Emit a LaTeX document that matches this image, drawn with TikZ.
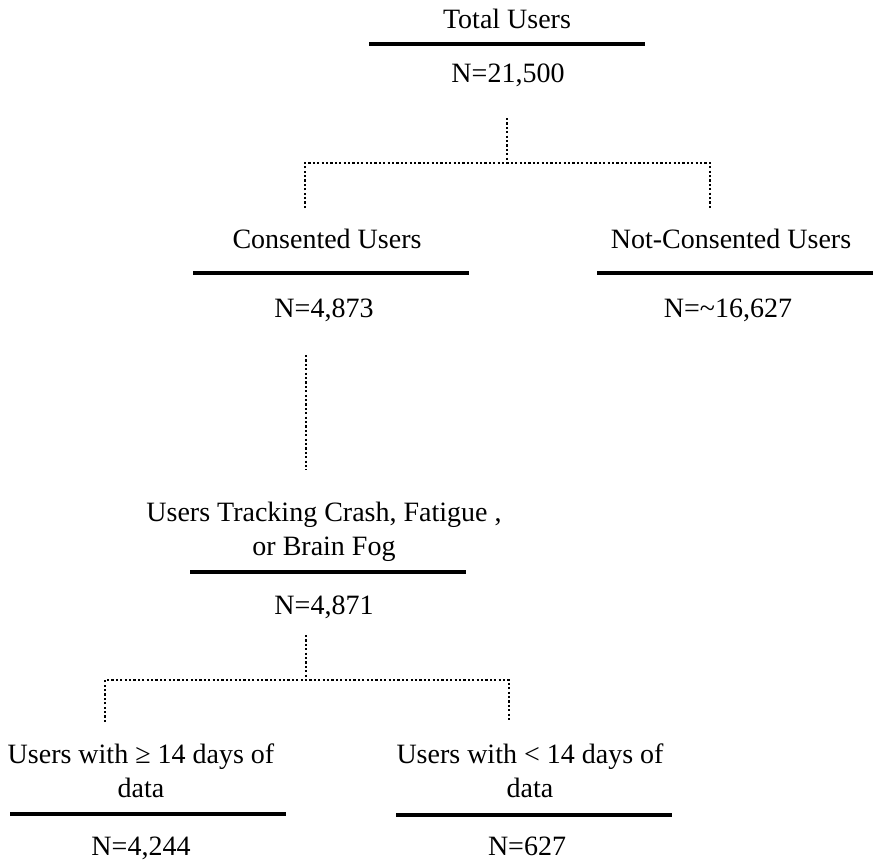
\documentclass[tikz,border=0pt]{standalone}
\usepackage{fontspec}
\setmainfont{Liberation Serif}
\begin{document}
\begin{tikzpicture}[x=1pt, y=-1pt,
    txt/.style={anchor=base, inner sep=0pt, align=center, font=\fontsize{28}{34}\selectfont},
    rule/.style={draw=none, fill=black, minimum width=276pt, minimum height=4pt, inner sep=0pt},
    dotline/.style={line width=2.4pt, dash pattern=on 2.2pt off 2.2pt}]
    \useasboundingbox (0,0) rectangle (878,862);
    % top level
    \node[txt] (total) at (507,28) {Total Users};
    \node[rule] (totalbar) at (507,44) {};
    \node[txt] (totalN) at (508,82) {N=21,500};
    % second level
    \node[txt] (cons) at (327,248) {Consented Users};
    \node[rule] (consbar) at (331,273) {};
    \node[txt] (consN) at (324,317) {N=4,873};
    \node[txt] (notcons) at (731,248) {Not-Consented Users};
    \node[rule] (notconsbar) at (735,273) {};
    \node[txt] (notconsN) at (728,317) {N=\textasciitilde16,627};
    % third level
    \node[txt] (track) at (324,555) {Users Tracking Crash, Fatigue ,\\or Brain Fog};
    \node[rule] (trackbar) at (328,572) {};
    \node[txt] (trackN) at (324,614) {N=4,871};
    % bottom level
    \node[txt] (more) at (141,797) {Users with ≥ 14 days of\\data};
    \node[rule] (morebar) at (148,814) {};
    \node[txt] (moreN) at (141,855) {N=4,244};
    \node[txt] (less) at (530,797) {Users with < 14 days of\\data};
    \node[rule] (lessbar) at (534,815) {};
    \node[txt] (lessN) at (527,855) {N=627};
    % dotted connectors
    \coordinate (s0) at (507,118);
    \coordinate (j0) at (507,163);
    \coordinate (a0) at (305,163);
    \coordinate (b0) at (710,163);
    \coordinate (a0e) at (305,208);
    \coordinate (b0e) at (710,208);
    \draw[dotline] (s0) -- (j0);
    \draw[dotline] (a0e) -- (a0) -- (b0) -- (b0e);
    \coordinate (s1) at (306,355);
    \coordinate (e1) at (306,470);
    \draw[dotline] (s1) -- (e1);
    \coordinate (s2) at (306,635);
    \coordinate (j2) at (306,680);
    \coordinate (a2) at (105,680);
    \coordinate (b2) at (509,680);
    \coordinate (a2e) at (105,722);
    \coordinate (b2e) at (509,722);
    \draw[dotline] (s2) -- (j2);
    \draw[dotline] (a2e) -- (a2) -- (b2) -- (b2e);
\end{tikzpicture}
\end{document}
